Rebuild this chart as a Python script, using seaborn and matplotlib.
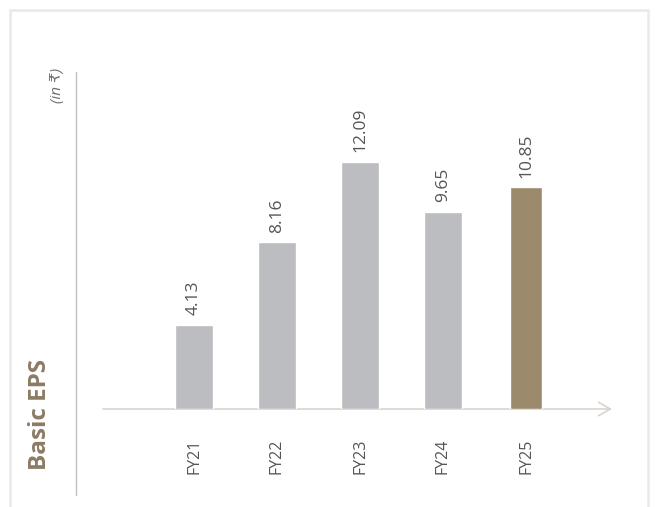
import matplotlib
matplotlib.use("Agg")
import matplotlib.pyplot as plt
from matplotlib import font_manager
from matplotlib.lines import Line2D
from matplotlib.patches import Rectangle
import seaborn as sns
import pandas as pd

# Basic earnings per share by financial year (in rupees)
years = ["FY21", "FY22", "FY23", "FY24", "FY25"]
eps = [4.13, 8.16, 12.09, 9.65, 10.85]
bar_colors = ["#bcbdc0", "#bcbdc0", "#bcbdc0", "#bcbdc0", "#9b8a6c"]
title = "Basic EPS"
unit = "(in ₹)"

df = pd.DataFrame({"year": years, "eps": eps})


def first_available(families):
    for fam in families:
        try:
            font_manager.findfont(font_manager.FontProperties(family=fam),
                                  fallback_to_default=False)
            return fam
        except Exception:
            continue
    return "DejaVu Sans"


narrow = first_available(["Liberation Sans Narrow", "DejaVu Sans Condensed",
                          "Open Sans"])

sns.set_theme(style="white")
plt.rcParams["font.family"] = ["Open Sans", "DejaVu Sans"]

W, H = 655, 507
fig = plt.figure(figsize=(W / 100, H / 100), dpi=100)
fig.patch.set_facecolor("white")

# plot area in pixel terms: baseline at y=409, x from 103 to 612
left, right, base, top = 103, 612, 409, 60
ax = fig.add_axes([left / W, (H - base) / H, (right - left) / W, (base - top) / H])
ax.set_facecolor("none")

px_per_unit = 247 / 12.09
slot = 83.0
x0 = (left - 194) / slot
x1 = (right - 194) / slot

# historic years in grey, current year highlighted
hist = df.iloc[:-1]
curr = df.iloc[-1:]
pal = dict(zip(years, bar_colors))
sns.barplot(data=hist, x="year", y="eps", order=years, hue="year",
            palette=pal, width=38 / slot, legend=False, saturation=1,
            ax=ax, zorder=3)
sns.barplot(data=curr, x="year", y="eps", order=years, hue="year",
            palette=pal, width=32 / slot, legend=False, saturation=1,
            ax=ax, zorder=3)

ax.set_xlim(x0, x1)
ax.set_ylim(0, (base - top) / px_per_unit)

label_color = "#555555"
for i, v in enumerate(eps):
    ax.annotate(f"{v:.2f}", xy=(i, v), xytext=(0, 7), textcoords="offset points",
                rotation=90, ha="center", va="bottom", fontsize=12.5,
                color=label_color, family=[narrow, "DejaVu Sans"])

for s in ax.spines.values():
    s.set_visible(False)
ax.set_yticks([])
ax.set_xlabel("")
ax.set_ylabel("")
ax.tick_params(axis="x", length=0, pad=21)
ax.set_xticks(range(len(years)))
ax.set_xticklabels(years, rotation=90, fontsize=11.5, color=label_color,
                   va="top", family=[narrow, "DejaVu Sans"])

# baseline with open arrow head
ax.annotate("", xy=(1, 0), xytext=(0, 0), xycoords="axes fraction",
            arrowprops=dict(arrowstyle="->,head_length=0.7,head_width=0.4",
                            color="#d9d5cd", lw=1.2, shrinkA=0, shrinkB=0),
            zorder=2)

# outer frame
fig.add_artist(Rectangle((10 / W, -0.1), (648 - 10) / W, (H - 10) / H + 0.1,
                         transform=fig.transFigure, fill=False,
                         edgecolor="#ece9e3", lw=1.8))

# vertical separator beside the title
fig.add_artist(Line2D([76 / W, 76 / W], [(H - 72) / H, (H - 495) / H],
                      transform=fig.transFigure, color="#bfbfbf", lw=1))

fig.text(40 / W, (H - 470) / H, title, rotation=90, ha="center", va="bottom",
         fontsize=17.5, fontweight="bold", color="#8b7b63")
fig.text(58 / W, (H - 68) / H, unit, rotation=90, ha="center", va="top",
         fontsize=11, style="italic", color="#6f6f6f")

fig.savefig("out.png", dpi=100, facecolor="white")
